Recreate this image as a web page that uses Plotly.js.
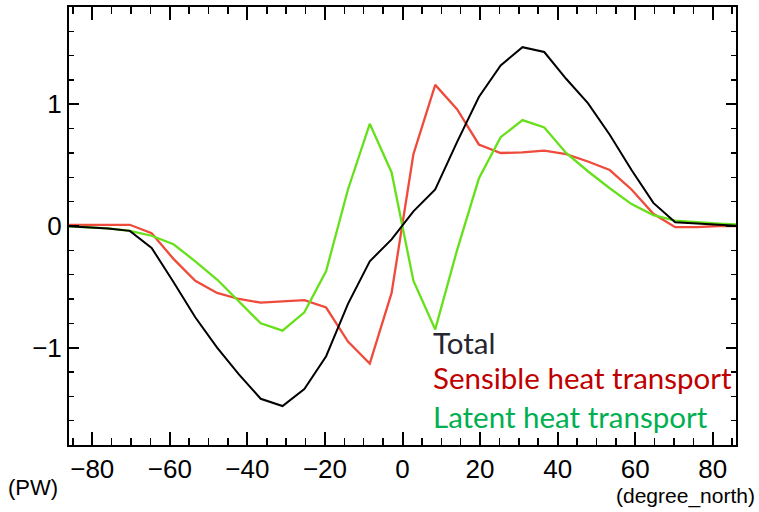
<!DOCTYPE html>
<html>
<head>
<meta charset="utf-8">
<script src="https://cdn.plot.ly/plotly-3.0.1.min.js"></script>
<style>html,body{margin:0;padding:0;background:#fff;}#chart{width:759px;height:512px;}</style>
</head>
<body>
<div id="chart"></div>
<script>
// Latitude grid (degree_north)
const lat = [-87.19,-81.56,-75.94,-70.31,-64.69,-59.06,-53.44,-47.81,-42.19,-36.56,-30.94,-25.31,-19.69,-14.06,-8.44,-2.81,
             2.81,8.44,14.06,19.69,25.31,30.94,36.56,42.19,47.81,53.44,59.06,64.69,70.31,75.94,81.56,87.19];
// Heat transport (PW)
const total = [0.0,-0.01,-0.02,-0.04,-0.18,-0.46,-0.75,-1.0,-1.22,-1.42,-1.48,-1.34,-1.07,-0.64,-0.29,-0.11,
               0.12,0.30,0.69,1.06,1.32,1.47,1.43,1.21,1.01,0.75,0.46,0.19,0.03,0.02,0.01,0.0];
const sensible = [0.01,0.01,0.01,0.01,-0.06,-0.27,-0.45,-0.55,-0.60,-0.63,-0.62,-0.61,-0.67,-0.95,-1.13,-0.55,
                  0.59,1.16,0.96,0.67,0.60,0.605,0.62,0.59,0.53,0.46,0.30,0.10,-0.01,-0.01,0.0,0.0];
const latent = [0.0,-0.01,-0.02,-0.04,-0.08,-0.15,-0.29,-0.44,-0.62,-0.80,-0.86,-0.71,-0.37,0.30,0.84,0.44,
                -0.45,-0.85,-0.20,0.39,0.73,0.87,0.81,0.60,0.45,0.31,0.18,0.09,0.045,0.03,0.02,0.01];

const seriesNames = ["Total", "Sensible heat transport", "Latent heat transport"];
const lineColors = ["#000000", "#ef4b3c", "#66e01a"];
const textColors = ["#262630", "#c00000", "#00b050"];

const traces = [total, sensible, latent].map((v, i) => ({
  x: lat, y: v, type: "scatter", mode: "lines", name: seriesNames[i],
  line: {color: lineColors[i], width: i === 0 ? 2 : 2.3}, hoverinfo: "skip"
}));
const data = [traces[1], traces[2], traces[0]];

const tickFont = {family: "Liberation Sans Narrow, Liberation Sans, Arial, sans-serif", size: 26, color: "#000"};
const legFont = {family: "Lato, Carlito, Calibri, sans-serif", size: 29.5};

const legendY = [0.233, 0.153, 0.066];
const annotations = seriesNames.map((t, i) => ({
  text: t, xref: "paper", yref: "paper", x: 0.543, y: legendY[i],
  xanchor: "left", yanchor: "middle", showarrow: false,
  font: Object.assign({}, legFont, {color: textColors[i]})
}));
annotations.push({text: "(PW)", xref: "paper", yref: "paper", x: -0.013, y: -0.096,
  xanchor: "right", yanchor: "middle", showarrow: false,
  font: {family: tickFont.family, size: 22, color: "#000"}});
annotations.push({text: "(degree_north)", xref: "paper", yref: "paper", x: 1.032, y: -0.116,
  xanchor: "right", yanchor: "middle", showarrow: false,
  font: {family: tickFont.family, size: 21, color: "#000"}});

const layout = {
  width: 759, height: 512,
  margin: {l: 69, r: 23, t: 7, b: 67},
  paper_bgcolor: "#fff", plot_bgcolor: "#fff",
  showlegend: false,
  xaxis: {
    range: [-86, 86], tick0: 0, dtick: 20, ticks: "inside", ticklen: 13, tickwidth: 2, tickcolor: "#000",
    showline: true, linecolor: "#000", linewidth: 2, mirror: "ticks",
    showgrid: false, zeroline: false, tickfont: tickFont,
    minor: {dtick: 5, tick0: 0, ticks: "inside", ticklen: 7, tickwidth: 1.5, tickcolor: "#000", showgrid: false}
  },
  yaxis: {
    range: [-1.8, 1.8], tick0: 0, dtick: 1, ticks: "inside", ticklen: 10, tickwidth: 2, tickcolor: "#000",
    showline: true, linecolor: "#000", linewidth: 2, mirror: "ticks",
    showgrid: false, zeroline: false, tickfont: tickFont,
    minor: {dtick: 0.2, tick0: 0, ticks: "inside", ticklen: 5, tickwidth: 1.5, tickcolor: "#000", showgrid: false}
  },
  annotations: annotations
};

Plotly.newPlot("chart", data, layout, {displayModeBar: false, staticPlot: true});
</script>
</body>
</html>
